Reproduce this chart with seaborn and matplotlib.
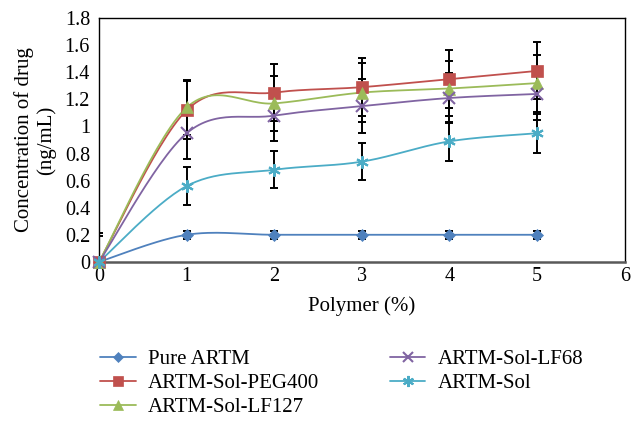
import numpy as np
import pandas as pd
import matplotlib
matplotlib.use('Agg')
import matplotlib.pyplot as plt
from matplotlib.lines import Line2D
import seaborn as sns

polymer = [0, 1, 2, 3, 4, 5]
series_names = ['Pure ARTM', 'ARTM-Sol-PEG400', 'ARTM-Sol-LF127', 'ARTM-Sol-LF68', 'ARTM-Sol']
pure_artm = [0.0, 0.20, 0.20, 0.20, 0.20, 0.20]
pure_err = [0.0, 0.03, 0.03, 0.03, 0.03, 0.03]
sol_peg400 = [0.0, 1.12, 1.25, 1.29, 1.35, 1.41]
peg400_err = [0.21, 0.215, 0.21, 0.215, 0.215, 0.21]
sol_lf127 = [0.0, 1.14, 1.17, 1.25, 1.28, 1.32]
lf127_err = [0.19, 0.20, 0.20, 0.215, 0.205, 0.21]
sol_lf68 = [0.0, 0.95, 1.08, 1.15, 1.21, 1.24]
lf68_err = [0.0, 0.19, 0.19, 0.20, 0.185, 0.19]
artm_sol = [0.0, 0.56, 0.68, 0.74, 0.89, 0.95]
sol_err = [0.0, 0.137, 0.137, 0.138, 0.145, 0.143]

values = [pure_artm, sol_peg400, sol_lf127, sol_lf68, artm_sol]
errors = [pure_err, peg400_err, lf127_err, lf68_err, sol_err]
colors = ['#4F81BD', '#C0504D', '#9BBB59', '#8064A2', '#4BACC6']
markers = ['D', 's', '^', 'x', (6, 2, 0)]
msizes = [6, 8, 8, 8, 9]


def smooth_path(x, y, n=30):
    # Excel-style smoothed line (Catmull-Rom as cubic bezier)
    x = np.asarray(x, float)
    y = np.asarray(y, float)
    px, py = [], []
    for i in range(len(x) - 1):
        x0, y0 = (x[i - 1], y[i - 1]) if i > 0 else (x[i], y[i])
        x3, y3 = (x[i + 2], y[i + 2]) if i + 2 < len(x) else (x[i + 1], y[i + 1])
        c1x = x[i] + (x[i + 1] - x0) / 6
        c1y = y[i] + (y[i + 1] - y0) / 6
        c2x = x[i + 1] - (x3 - x[i]) / 6
        c2y = y[i + 1] - (y3 - y[i]) / 6
        t = np.linspace(0, 1, n)
        bx = (1 - t) ** 3 * x[i] + 3 * (1 - t) ** 2 * t * c1x + 3 * (1 - t) * t ** 2 * c2x + t ** 3 * x[i + 1]
        by = (1 - t) ** 3 * y[i] + 3 * (1 - t) ** 2 * t * c1y + 3 * (1 - t) * t ** 2 * c2y + t ** 3 * y[i + 1]
        px.extend(bx)
        py.extend(by)
    return px, py


sns.set_style('white')
plt.rcParams['font.family'] = ['Liberation Serif', 'DejaVu Serif']
plt.rcParams['text.color'] = 'black'
plt.rcParams['axes.labelcolor'] = 'black'
plt.rcParams['xtick.color'] = 'black'
plt.rcParams['ytick.color'] = 'black'

fig = plt.figure(figsize=(6.31, 4.21), dpi=100)
ax = fig.add_axes([0.157, 0.378, 0.833, 0.579])

frames = []
for name, v in zip(series_names, values):
    sx, sy = smooth_path(polymer, v)
    frames.append(pd.DataFrame({'x': sx, 'y': sy, 'series': name}))
curves = pd.concat(frames, ignore_index=True)
sns.lineplot(data=curves, x='x', y='y', hue='series', palette=dict(zip(series_names, colors)),
             sort=False, estimator=None, units='series', linewidth=1.3, legend=False, ax=ax, zorder=3)

for v, e in zip(values, errors):
    ax.errorbar(polymer, v, yerr=e, fmt='none', ecolor='black', elinewidth=1.4,
                capsize=3, capthick=1.4, zorder=2)

for v, c, m, s in zip(values, colors, markers, msizes):
    ax.plot(polymer, v, linestyle='none', marker=m, color=c, markersize=s,
            markeredgewidth=1.5 if m == 'x' or isinstance(m, tuple) else 0.5,
            zorder=4, clip_on=False)

ax.set_xlim(0, 6)
ax.set_ylim(0, 1.8)
ax.set_xticks(range(0, 7))
ax.set_yticks(np.arange(0, 1.81, 0.2))
ax.set_yticklabels(['0', '0.2', '0.4', '0.6', '0.8', '1', '1.2', '1.4', '1.6', '1.8'])
ax.tick_params(axis='y', length=0, labelsize=14.5, pad=6.5)
ax.tick_params(axis='x', length=0, labelsize=14.5, pad=4)
for side in ['left', 'top', 'right']:
    ax.spines[side].set_color('black')
    ax.spines[side].set_linewidth(1.0)
ax.spines['bottom'].set_color('#595959')
ax.spines['bottom'].set_linewidth(1.8)

ax.set_xlabel('Polymer (%)', fontsize=15, labelpad=7)
ax.set_ylabel('Concentration of drug\n(ng/mL)', fontsize=15, labelpad=6, linespacing=1.2)

handles = [Line2D([0], [0], color=c, marker=m, markersize=s - 1, linewidth=1.3,
                  markeredgewidth=1.5 if m == 'x' or isinstance(m, tuple) else 0.5)
           for c, m, s in zip(colors, markers, msizes)]
fig.legend(handles, series_names, loc='upper left', bbox_to_anchor=(0.146, 0.19), ncol=2,
           frameon=False, fontsize=15, handlelength=1.7, columnspacing=3.4,
           labelspacing=0.22, handletextpad=0.58, borderaxespad=0)

fig.savefig('out.png', dpi=100)
